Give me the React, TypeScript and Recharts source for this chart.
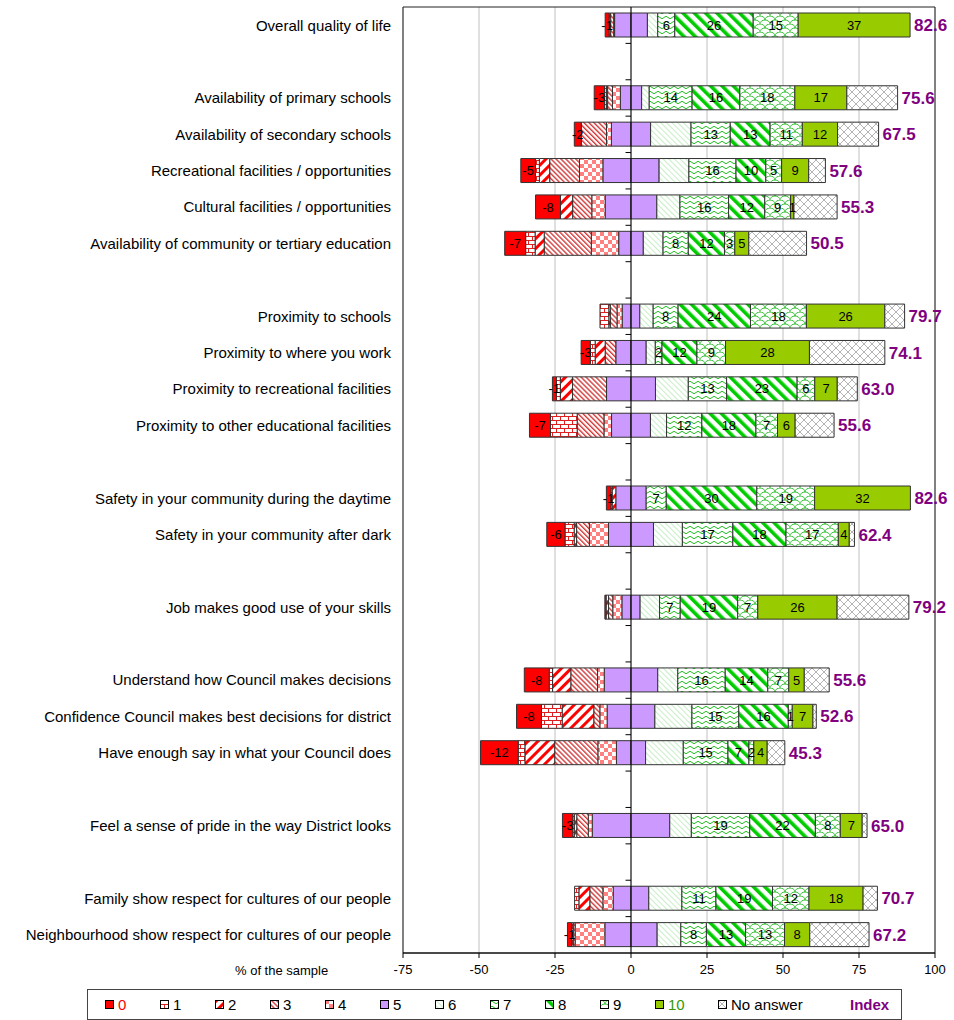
import {
    Bar,
    BarChart,
    CartesianGrid,
    LabelList,
    ReferenceArea,
    ReferenceLine,
    XAxis,
    YAxis,
} from 'recharts';

const questions = [
    'Overall quality of life',
    'Availability of primary schools',
    'Availability of secondary schools',
    'Recreational facilities / opportunities',
    'Cultural facilities / opportunities',
    'Availability of community or tertiary education',
    'Proximity to schools',
    'Proximity to where you work',
    'Proximity to recreational facilities',
    'Proximity to other educational facilities',
    'Safety in your community during the daytime',
    'Safety in your community after dark',
    'Job makes good use of your skills',
    'Understand how Council makes decisions',
    'Confidence Council makes best decisions for district',
    'Have enough say in what your Council does',
    'Feel a sense of pride in the way District looks',
    'Family show respect for cultures of our people',
    'Neighbourhood show respect for cultures of our people',
];

// questions per block, an empty row sits between blocks
const groupSizes = [1, 5, 4, 2, 1, 3, 1, 2];

const score0 = [1.3, 3.4, 2.3, 4.8, 8.2, 6.9, 0, 3.0, 1.3, 6.9, 1.5, 6.0, 0.4, 8.2, 8.2, 12.4, 3.4, 0, 1.4];
const score1 = [0, 0.6, 0, 1.3, 0, 3.1, 2.9, 1.6, 1.3, 8.8, 0.4, 3.0, 0, 1.1, 6.8, 2.2, 0.5, 1.4, 0.5];
const score2 = [0.5, 0.4, 0, 3.4, 4.0, 3.0, 0.5, 3.3, 4.0, 0, 1.2, 0.8, 0.8, 6.0, 10.4, 9.8, 0.8, 3.6, 0];
const score3 = [1.0, 1.6, 8.3, 9.8, 6.3, 15.5, 2.2, 3.5, 11.2, 8.8, 0, 4.2, 1.4, 8.8, 2.0, 14.2, 3.8, 4.3, 0.6];
const score4 = [0.3, 2.6, 1.6, 7.7, 4.4, 9.0, 1.7, 0, 0, 2.5, 0, 6.3, 3.0, 2.2, 2.4, 6.1, 1.3, 3.4, 9.8];
const score5 = [10.8, 7.0, 12.9, 18.5, 17.0, 8.1, 5.8, 10.0, 16.1, 12.8, 10.0, 14.8, 6.0, 17.6, 15.7, 9.6, 25.5, 11.7, 17.2];
const score6 = [3.4, 2.5, 13.3, 9.8, 7.6, 6.5, 4.4, 3.0, 10.8, 5.3, 0, 9.5, 6.4, 6.6, 12.2, 12.4, 7.1, 10.9, 7.8];
const score7 = [5.6, 14.1, 12.9, 15.5, 16.0, 8.3, 8.2, 2.2, 12.6, 11.6, 6.6, 16.6, 6.8, 15.6, 15.4, 14.7, 19.2, 11.2, 8.4];
const score8 = [25.8, 15.7, 13.1, 9.8, 11.9, 11.9, 23.8, 11.5, 23.2, 17.8, 29.8, 17.5, 18.9, 14.0, 16.3, 6.9, 21.6, 18.6, 12.9];
const score9 = [14.8, 18.1, 10.6, 5.2, 8.5, 3.4, 18.4, 9.4, 5.8, 7.1, 19.0, 17.2, 6.6, 6.9, 1.3, 1.6, 8.2, 12.0, 12.8];
const score10 = [36.8, 17.1, 11.6, 8.9, 1.1, 4.6, 25.8, 27.6, 7.4, 5.8, 31.5, 3.6, 26.1, 5.1, 6.8, 4.4, 7.2, 17.8, 8.3];
const noAnswer = [0, 16.7, 13.5, 5.5, 14.2, 19.0, 6.5, 24.8, 6.6, 12.8, 0, 1.7, 23.6, 8.2, 1.1, 5.8, 1.6, 4.7, 19.5];
const indexScores = [82.6, 75.6, 67.5, 57.6, 55.3, 50.5, 79.7, 74.1, 63.0, 55.6, 82.6, 62.4, 79.2, 55.6, 52.6, 45.3, 65.0, 70.7, 67.2];

const xTicks = [-75, -50, -25, 0, 25, 50, 75, 100];
const legendLabels = ['0', '1', '2', '3', '4', '5', '6', '7', '8', '9', '10', 'No answer'];

const rows: any[] = [];
let q = 0;
groupSizes.forEach((size, g) => {
    if (g > 0) rows.push({ id: `gap${g}`, label: '' });
    for (let k = 0; k < size; k++, q++) {
        rows.push({
            id: `q${q}`,
            label: questions[q],
            n5: -score5[q] / 2,
            n4: -score4[q],
            n3: -score3[q],
            n2: -score2[q],
            n1: -score1[q],
            n0: -score0[q],
            p5: score5[q] / 2,
            p6: score6[q],
            p7: score7[q],
            p8: score8[q],
            p9: score9[q],
            p10: score10[q],
            na: noAnswer[q],
            // hairline holder so the index label also shows when "no answer" is 0
            pad: 0.001,
            index: indexScores[q],
        });
    }
});
const labelById: Record<string, string> = {};
rows.forEach((r) => (labelById[r.id] = r.label));

const fills: Record<string, string> = {
    '0': '#ff0000',
    '1': 'url(#pat1)',
    '2': 'url(#pat2)',
    '3': 'url(#pat3)',
    '4': 'url(#pat4)',
    '5': '#cc99ff',
    '6': 'url(#pat6)',
    '7': 'url(#pat7)',
    '8': 'url(#pat8)',
    '9': 'url(#pat9)',
    '10': '#99cc00',
    'No answer': 'url(#patNA)',
};

const series = [
    { key: 'n5', fill: fills['5'] },
    { key: 'n4', fill: fills['4'] },
    { key: 'n3', fill: fills['3'] },
    { key: 'n2', fill: fills['2'] },
    { key: 'n1', fill: fills['1'] },
    { key: 'n0', fill: fills['0'], label: true },
    { key: 'p5', fill: fills['5'] },
    { key: 'p6', fill: fills['6'] },
    { key: 'p7', fill: fills['7'], label: true },
    { key: 'p8', fill: fills['8'], label: true },
    { key: 'p9', fill: fills['9'], label: true },
    { key: 'p10', fill: fills['10'], label: true },
    { key: 'na', fill: fills['No answer'] },
];

const fmt = (v: any) => {
    if (v === undefined || v === null) return '';
    const r = Math.round(Number(v));
    return r === 0 ? '' : String(r);
};

const IndexLabel = (props: any) => {
    const vb = props.viewBox || props;
    if (props.value === undefined || props.value === null) return null;
    return (
        <text
            x={vb.x + vb.width + 4}
            y={vb.y + vb.height / 2}
            dy="0.36em"
            fill="#800080"
            fontSize={17}
            fontWeight="bold"
        >
            {Number(props.value).toFixed(1)}
        </text>
    );
};

const Patterns = () => (
    <defs>
        <pattern id="pat1" width="8" height="8" patternUnits="userSpaceOnUse">
            <rect width="8" height="8" fill="#fff" />
            <path d="M0 0.5H8M0 4.5H8M0.5 0V4.5M4.5 4.5V8" stroke="#e02020" strokeWidth="1" />
        </pattern>
        <pattern id="pat2" width="7" height="7" patternUnits="userSpaceOnUse" patternTransform="rotate(45)">
            <rect width="7" height="7" fill="#fff" />
            <rect width="3" height="7" fill="#ff0000" />
        </pattern>
        <pattern id="pat3" width="3.5" height="3.5" patternUnits="userSpaceOnUse" patternTransform="rotate(-45)">
            <rect width="3.5" height="3.5" fill="#fff" />
            <rect width="1.4" height="3.5" fill="#d03a3a" />
        </pattern>
        <pattern id="pat4" width="8" height="8" patternUnits="userSpaceOnUse">
            <rect width="8" height="8" fill="#fff" />
            <rect width="4" height="4" fill="#ff8080" />
            <rect x="4" y="4" width="4" height="4" fill="#ff8080" />
        </pattern>
        <pattern id="pat6" width="4" height="4" patternUnits="userSpaceOnUse" patternTransform="rotate(-45)">
            <rect width="4" height="4" fill="#fff" />
            <rect width="1" height="4" fill="#c8eec8" />
        </pattern>
        <pattern id="pat7" width="8" height="5" patternUnits="userSpaceOnUse">
            <rect width="8" height="5" fill="#fff" />
            <path d="M0 2.5Q2 0 4 2.5T8 2.5" stroke="#22c022" strokeWidth="1" fill="none" />
        </pattern>
        <pattern id="pat8" width="8" height="8" patternUnits="userSpaceOnUse" patternTransform="rotate(-45)">
            <rect width="8" height="8" fill="#fff" />
            <rect width="3.6" height="8" fill="#00cc00" />
        </pattern>
        <pattern id="pat9" width="10" height="8" patternUnits="userSpaceOnUse">
            <rect width="10" height="8" fill="#fff" />
            <path
                d="M0 8A5 4 0 0 1 10 8M-5 4A5 4 0 0 1 5 4M5 4A5 4 0 0 1 15 4"
                stroke="#33c033"
                strokeWidth="1"
                fill="none"
            />
        </pattern>
        <pattern id="patNA" width="8" height="8" patternUnits="userSpaceOnUse">
            <rect width="8" height="8" fill="#fff" />
            <path d="M0 0L8 8M8 0L0 8" stroke="#b4b4b4" strokeWidth="1" />
        </pattern>
    </defs>
);

const legendColor = (label: string) => {
    if (label === '0') return '#ff0000';
    if (label === '10') return '#339900';
    return '#000';
};

export default function App() {
    return (
        <div
            style={{
                position: 'absolute',
                left: 0,
                top: 0,
                width: 954,
                height: 1020,
                background: '#fff',
                fontFamily: 'Arial, "Liberation Sans", sans-serif',
            }}
        >
            <BarChart
                width={954}
                height={990}
                data={rows}
                layout="vertical"
                stackOffset="sign"
                barSize={24}
                margin={{ top: 7, right: 19, bottom: 7, left: 0 }}
            >
                <Patterns />
                <CartesianGrid horizontal={false} stroke="#c0c0c0" />
                <XAxis
                    type="number"
                    domain={[-75, 100]}
                    ticks={xTicks}
                    allowDataOverflow
                    height={30}
                    tickSize={5}
                    tickMargin={7}
                    stroke="#000"
                    tick={{ fill: '#000', fontSize: 13 }}
                />
                <YAxis
                    type="category"
                    dataKey="id"
                    width={403}
                    interval={0}
                    tickSize={0}
                    tickMargin={12}
                    axisLine={false}
                    tickFormatter={(id: string) => labelById[id] || ''}
                    tick={{ fill: '#000', fontSize: 15 }}
                />
                {series.map((s) => (
                    <Bar
                        key={s.key}
                        dataKey={s.key}
                        stackId="a"
                        fill={s.fill}
                        stroke="#333"
                        strokeWidth={1}
                        isAnimationActive={false}
                    >
                        {s.label && (
                            <LabelList
                                dataKey={s.key}
                                position="center"
                                formatter={fmt}
                                fill="#000"
                                fontSize={13}
                            />
                        )}
                    </Bar>
                ))}
                <Bar dataKey="pad" stackId="a" fill="none" stroke="none" isAnimationActive={false}>
                    <LabelList dataKey="index" content={IndexLabel} />
                </Bar>
                <ReferenceArea x1={-75} x2={100} fill="none" fillOpacity={0} stroke="#222" />
                <ReferenceLine x={0} stroke="#000" />
                {rows.slice(1).map((r) => (
                    <ReferenceLine
                        key={`t-${r.id}`}
                        segment={[
                            { x: -1.8, y: r.id },
                            { x: 0, y: r.id },
                        ]}
                        position="start"
                        stroke="#000"
                    />
                ))}
            </BarChart>
            <div style={{ position: 'absolute', left: 235, top: 963, fontSize: 13, lineHeight: '15px' }}>
                % of the sample
            </div>
            <div
                style={{
                    position: 'absolute',
                    left: 87,
                    top: 989,
                    width: 815,
                    height: 31,
                    border: '1px solid #444',
                    boxSizing: 'border-box',
                }}
            >
                {legendLabels.map((label, i) => (
                    <div
                        key={label}
                        style={{
                            position: 'absolute',
                            left: i < 11 ? 17 + i * 55 : 630,
                            top: 6,
                            display: 'flex',
                            alignItems: 'center',
                            fontSize: 15,
                            lineHeight: '17px',
                            color: legendColor(label),
                        }}
                    >
                        <svg width="9" height="9">
                            <rect x="0.5" y="0.5" width="8" height="8" fill={fills[label]} stroke="#000" />
                        </svg>
                        <span style={{ marginLeft: 4 }}>{label}</span>
                    </div>
                ))}
                <div
                    style={{
                        position: 'absolute',
                        left: 762,
                        top: 6,
                        fontSize: 15,
                        lineHeight: '17px',
                        fontWeight: 'bold',
                        color: '#800080',
                    }}
                >
                    Index
                </div>
            </div>
        </div>
    );
}
